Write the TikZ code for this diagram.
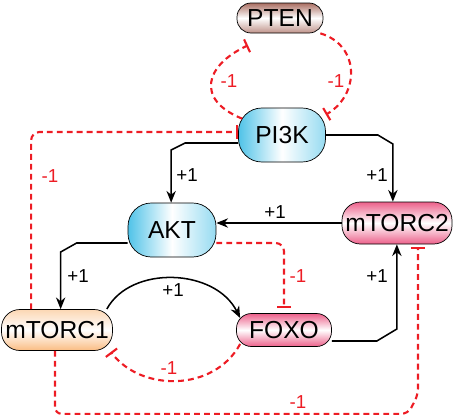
\documentclass[tikz,border=0pt]{standalone}
\usepackage{fontspec}
\setmainfont{Liberation Sans}
\usetikzlibrary{calc, arrows.meta}
\definecolor{nodeBlue}{RGB}{80, 195, 232}
\definecolor{nodePink}{RGB}{236, 96, 138}
\definecolor{nodeBrown}{RGB}{170, 110, 98}
\definecolor{nodePeach}{RGB}{250, 188, 130}
\definecolor{inhRed}{RGB}{237, 28, 36}

\begin{document}
\begin{tikzpicture}[x=0.03cm, y=-0.03cm,
  gene/.style={draw=black, line width=0.6pt, inner sep=0pt, font=\fontsize{21}{25}\selectfont},
  act/.style={-{Stealth[length=10pt, width=8pt]}, line width=1.3pt, black},
  inh/.style={-{Bar[width=12pt, line width=1.8pt]}, line width=1.8pt, inhRed, dash pattern=on 5pt off 3.5pt},
  plus/.style={font=\fontsize{16}{19}\selectfont},
  minus/.style={font=\fontsize{16}{19}\selectfont, text=inhRed}]
  \useasboundingbox (0,0) rectangle (454,417);

  % Genes
  \node[gene, rounded corners=0.42cm, minimum width=2.58cm, minimum height=0.9cm,
    top color=nodeBrown, bottom color=nodeBrown!75, middle color=white] (PTEN) at (280,18) {PTEN};
  \node[gene, rounded corners=0.7cm, minimum width=2.61cm, minimum height=1.62cm,
    left color=nodeBlue, right color=nodeBlue!60, middle color=white] (PI3K) at (282,135) {PI3K};
  \node[gene, rounded corners=0.7cm, minimum width=2.64cm, minimum height=1.62cm,
    left color=nodeBlue, right color=nodeBlue!60, middle color=white] (AKT) at (172,230) {AKT};
  \node[gene, rounded corners=0.55cm, minimum width=3.3cm, minimum height=1.26cm,
    top color=nodePink, bottom color=nodePink, middle color=white] (mTORC2) at (397,223) {mTORC2};
  \node[gene, rounded corners=0.55cm, minimum width=3.33cm, minimum height=1.23cm,
    top color=nodePeach!60, bottom color=nodePeach, middle color=white] (mTORC1) at (57,330) {mTORC1};
  \node[gene, rounded corners=0.45cm, minimum width=2.85cm, minimum height=0.99cm,
    top color=nodePink, bottom color=nodePink, middle color=white] (FOXO) at (284,330) {FOXO};

  % Activations
  \draw[act] ($(PI3K.west)+(0,8)$) -- ++(-53,0) -- ++(-14,7) coordinate (c1) -- (c1 |- AKT.north);
  \draw[act] (PI3K.east) -- ++(52,0) -- ++(15,9) coordinate (c2) -- (c2 |- mTORC2.north);
  \draw[act] (mTORC2.west) -- (mTORC2.west -| AKT.east);
  \draw[act] ($(AKT.west)+(0,13)$) -- ++(-51,0) -- ++(-16,9) coordinate (c3) -- (c3 |- mTORC1.north);
  \draw[act] ($(mTORC1.east)+(-6,-21)$) .. controls +(24,-44) and +(-25,-50) .. ($(FOXO.west)+(4,-12)$);
  \draw[act] ($(FOXO.east)+(0,11)$) -- ++(45,0) -- ++(20,-12) coordinate (c4) -- (c4 |- mTORC2.south);

  % Inhibitions
  \draw[inh] ($(PI3K.north west)+(4,11)$) .. controls +(-47,-19) and +(-43,20) .. ($(PTEN.south)+(-32,12)$);
  \draw[inh] ($(PTEN.south east)+(-3,0)$) .. controls +(40,12) and +(34,-20) .. ($(PI3K.north east)+(0,7)$);
  \draw[inh, rounded corners=0.25cm] ($(mTORC1.north west)+(30,0)$) |- ($(PI3K.west)+(0,-3)$);
  \draw[inh, rounded corners=0.25cm, shorten >=4pt] ($(AKT.east)+(0,13)$) -| (FOXO.north);
  \draw[inh] ($(FOXO.west)+(4,14)$) .. controls +(-26,48) and +(30,40) .. ($(mTORC1.south east)+(-2,1)$);
  \draw[inh, rounded corners=0.2cm, shorten >=2pt] ($(mTORC1.south)+(-2,0)$) -- ++(0,63) -- ++(353,0)
    -- ++(10,-19) coordinate (c5) -- (c5 |- mTORC2.south);

  % Labels
  \node[plus] (lPA) at (187,175) {+1};
  \node[plus] (lPM) at (377,175) {+1};
  \node[plus] (lMA) at (275,212) {+1};
  \node[plus] (lAM) at (78,276) {+1};
  \node[plus] (lMF) at (173,290) {+1};
  \node[plus] (lFM) at (377,276) {+1};
  \node[minus] (lPP) at (229,81) {-1};
  \node[minus] (lTP) at (336,81) {-1};
  \node[minus] (lMP) at (50,176) {-1};
  \node[minus] (lAF) at (298,276) {-1};
  \node[minus] (lFC) at (169,368) {-1};
  \node[minus] (lCC) at (298,402) {-1};
\end{tikzpicture}
\end{document}
